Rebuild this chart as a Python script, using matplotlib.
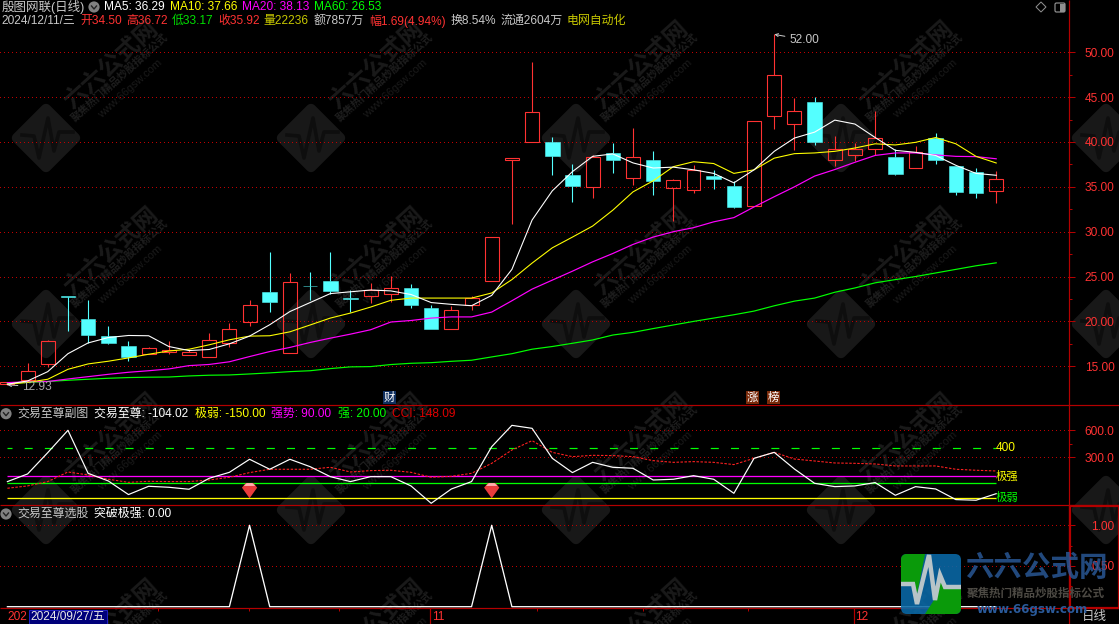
import matplotlib
matplotlib.use('Agg')
import matplotlib.pyplot as plt
from matplotlib.path import Path
from matplotlib.patches import Polygon, Rectangle, FancyBboxPatch, Circle

plt.rcParams['font.family'] = ['Liberation Sans', 'Noto Sans CJK SC', 'DejaVu Sans']
plt.rcParams['lines.scale_dashes'] = False
plt.rcParams['axes.unicode_minus'] = False

# ---- data ----
opens  = [13.0,13.51,15.3,22.84,20.3,18.4,17.28,16.4,16.64,16.3,16.08,17.54,19.89,23.3,16.53,23.96,24.55,22.6,22.8,23.0,
          23.77,21.5,19.1,21.8,24.48,38.0,40.0,40.0,36.37,35.0,38.8,35.96,38.04,34.85,34.63,36.26,35.04,32.85,42.85,41.96,
          44.48,37.96,38.5,39.2,38.37,37.07,40.4,37.37,36.6,34.50]
closes = [13.2,14.44,17.8,22.7,18.5,17.6,16.0,17.0,16.8,16.57,17.9,19.14,21.83,22.2,24.4,23.9,23.43,22.46,23.5,23.73,
          21.87,19.18,21.27,22.6,29.44,38.19,43.33,38.4,35.15,38.33,38.04,38.33,35.7,35.78,36.9,35.93,32.74,42.33,47.44,43.44,
          39.96,39.2,39.2,40.44,36.48,38.9,38.04,34.48,34.26,35.92]
highs  = [13.2,15.37,17.95,22.84,22.4,19.5,17.84,17.16,17.84,16.8,18.7,19.85,22.4,27.7,25.45,25.56,27.7,23.5,24.3,25.1,
          24.2,21.8,21.75,22.87,29.44,38.19,48.9,40.6,37.6,38.6,39.9,41.6,39.04,35.93,37.4,36.93,35.6,42.33,52.0,44.93,
          45.04,40.7,39.9,43.5,39.2,39.6,41.04,37.37,37.07,36.72]
lows   = [12.93,13.51,14.9,18.88,17.6,17.5,15.6,16.4,16.4,16.3,16.08,17.16,19.44,21.0,16.53,22.4,23.0,21.1,22.1,22.2,
          21.5,19.18,19.1,21.3,24.48,30.9,40.0,36.3,33.26,33.8,36.5,35.26,34.04,31.2,34.26,34.8,32.6,32.85,41.4,39.15,
          39.63,37.3,37.9,38.56,36.3,37.07,37.5,34.04,33.8,33.17]
ma5  = [13.0,13.36,14.4,16.4,17.6,18.2,18.43,18.4,17.2,16.75,16.87,17.5,18.36,19.63,21.1,22.1,23.1,23.3,23.5,23.4,
        23.0,22.1,21.9,21.75,22.9,25.8,31.3,34.55,36.7,38.4,38.67,37.67,37.1,37.2,36.9,36.5,35.45,36.9,38.96,40.44,
        41.1,42.44,42.0,40.5,39.07,38.85,38.5,37.4,36.5,36.29]
ma10 = [13.0,13.2,13.55,14.66,15.26,15.56,15.93,16.34,16.7,16.9,17.39,17.95,18.36,18.4,18.84,19.6,20.37,20.93,21.6,22.35,
        22.6,22.6,22.6,22.6,23.17,24.66,26.5,28.2,29.4,30.63,32.4,34.44,35.67,37.25,37.8,37.6,36.5,36.9,38.2,38.7,
        38.78,38.96,39.33,39.8,39.67,39.96,40.5,39.8,38.4,37.66]
ma20 = [13.17,13.28,13.3,13.58,13.84,14.1,14.33,14.5,14.7,15.07,15.2,15.5,16.08,16.64,17.1,17.65,18.13,18.58,19.07,19.93,
        20.1,20.37,20.5,20.5,21.04,22.3,23.6,24.6,25.6,26.64,27.57,28.58,29.4,30.0,30.45,31.1,31.57,32.76,33.9,35.0,
        36.2,36.93,37.74,38.5,38.78,38.78,38.56,38.4,38.37,38.13]
ma60 = [13.1,13.2,13.3,13.44,13.55,13.66,13.74,13.78,13.8,13.92,14.0,14.03,14.14,14.26,14.4,14.5,14.74,14.93,14.96,15.19,
        15.33,15.4,15.55,15.67,16.04,16.4,16.9,17.2,17.56,17.93,18.48,18.78,19.2,19.6,20.0,20.37,20.74,21.15,21.74,22.26,
        22.6,23.25,23.73,24.3,24.66,25.0,25.4,25.8,26.2,26.53]
zz_line = [30,115,352,600,122,37,-114,-22,-33,-55,67,133,278,167,278,196,85,30,85,85,
           -18,-211,-52,30,418,655,622,289,130,244,189,178,48,56,96,56,-100,289,355,170,
           11,-26,-18,19,-122,-26,-52,-170,-177,-104.02]
cci = [-44,-18,30,137,104,56,22,33,30,30,48,78,130,167,167,167,189,137,152,156,
       133,78,89,122,233,381,485,355,307,322,319,307,263,244,252,244,219,289,355,281,
       259,237,233,226,204,204,204,167,156,148.09]
breakout = [0]*50
breakout[12] = 1
breakout[24] = 1
gem_idx = [12, 24]
gem_val = [-71, -71]
level_strong2 = 400
level_strong = 90
level_mid = 20
level_weak = -150
price_ticks = [15, 20, 25, 30, 35, 40, 45, 50]
price_minor = [17.5, 22.5, 27.5, 32.5, 37.5, 42.5, 47.5]

W, H = 1119, 624
RED = '#ff3232'; CYAN = '#54ffff'; LINE = '#b40000'; GRID = '#c00000'
PX = 0.72
DOT = (0, (1*PX, 3*PX))
n = len(closes)
xs = list(range(n))

fig = plt.figure(figsize=(W/100, H/100), dpi=100, facecolor='black')

def pix_axes(left, top, right, bottom, z):
    a = fig.add_axes([left/W, 1-bottom/H, (right-left)/W, (bottom-top)/H], zorder=z)
    a.patch.set_visible(False)
    return a

def overlay(z):
    a = pix_axes(0, 0, W, H, z)
    a.set_xlim(0, W); a.set_ylim(H, 0); a.axis('off')
    return a

bg = overlay(0)
fg = overlay(10)

# ---- watermark ----
WM = '#181818'
for cy in (138, 324, 510, 696):
    for cx in (46, 311, 576, 841, 1106):
        if cy < 600:
            bg.add_patch(Polygon([(cx-29, cy), (cx, cy-29), (cx+29, cy), (cx, cy+29)], closed=True,
                                 facecolor=WM, edgecolor=WM, lw=7.5, joinstyle='round'))
            zx = [-24, -12, -7, 2, 8, 13, 27]
            zy = [-3, -2, 20, -20, 13, -6, -6]
            bg.plot([cx+a for a in zx], [cy+b for b in zy], color='#0e0e0e', lw=2.6)
        if cx < 1100:
            bg.text(cx+65, cy-73, '六六公式网', color='#1a1a1a', fontsize=17, fontweight='bold', rotation=42,
                    rotation_mode='anchor', ha='center', va='center')
            bg.text(cx+74, cy-60, '聚焦热门精品炒股指标公式', color='#1e1e1e', fontsize=7.6, fontweight='bold', rotation=42,
                    rotation_mode='anchor', ha='center', va='center')
            bg.text(cx+84, cy-49, 'www.66gsw.com', color='#1a1a1a', fontsize=8, rotation=42,
                    rotation_mode='anchor', ha='center', va='center')

AXR = 1068.5
XL = (-7.4/20.18, (AXR-7.4)/20.18)

def style_panel(a, ymaj, ymin, labels):
    a.set_xlim(*XL)
    a.set_xticks([])
    for s in a.spines.values():
        s.set_visible(False)
    a.yaxis.tick_right()
    a.set_yticks(ymaj)
    a.set_yticklabels(labels)
    a.set_yticks(ymin, minor=True)
    a.tick_params(axis='y', which='major', length=6/1.389, width=PX, color=LINE, labelcolor=RED,
                  labelsize=8.6, pad=40*PX)
    a.tick_params(axis='y', which='minor', length=3/1.389, width=PX, color=LINE)
    for t in a.get_yticklabels():
        t.set_ha('right')
    a.grid(axis='y', which='major', color=GRID, lw=PX, linestyle=DOT, antialiased=False)
    a.set_axisbelow(True)

# ---- main panel ----
ax = pix_axes(0, 0, AXR, 405.3, 1)
ax.set_ylim(50-(405.3-52.3)/8.97, 50+52.3/8.97)
style_panel(ax, price_ticks, price_minor, [f'{v:.2f}' for v in price_ticks])

for i in xs:
    up = closes[i] >= opens[i]
    col = RED if up else CYAN
    top, bot = max(opens[i], closes[i]), min(opens[i], closes[i])
    ax.vlines(i, top, highs[i], color=col, lw=PX*1.1, snap=True)
    ax.vlines(i, lows[i], bot, color=col, lw=PX*1.1, snap=True)
    if up:
        ax.bar(i, top-bot, bottom=bot, width=0.69, facecolor='none', edgecolor=col, lw=PX*1.1, zorder=2, snap=True)
    else:
        ax.bar(i, top-bot, bottom=bot, width=0.72, facecolor=col, edgecolor=col, lw=PX*0.5, zorder=2, snap=True)

ax.plot(xs, ma60, color='#00ff00', lw=PX*1.2, zorder=3)
ax.plot(xs, ma20, color='#ff00ff', lw=PX*1.2, zorder=3)
ax.plot(xs, ma10, color='#ffff00', lw=PX*1.1, zorder=3)
ax.plot(xs, ma5, color='#ffffff', lw=PX*1.1, zorder=4)
ax.annotate('52.00', xy=(38, max(highs)), xytext=(789, 39.7), textcoords=fg.transData, color='#c8c8c8', fontsize=8.6,
            va='center', ha='left', arrowprops=dict(arrowstyle='->,head_width=0.12,head_length=0.25', color='#c8c8c8', lw=PX, shrinkA=1, shrinkB=0))
ax.annotate('12.93', xy=(0, min(lows)), xytext=(22, 386.7), textcoords=fg.transData, color='#a8a8a8', fontsize=8.6,
            va='center', ha='left', arrowprops=dict(arrowstyle='->,head_width=0.12,head_length=0.25', color='#c8c8c8', lw=PX, shrinkA=1, shrinkB=0))

# ---- indicator panel ----
ax2 = pix_axes(0, 405.3, AXR, 505.3, 1)
ax2.set_ylim(300-(505.3-457.3)/0.09, 600+(430.3-405.3)/0.09)
style_panel(ax2, [300, 600], [450], ['300.0', '600.0'])
x0, x1 = xs[0], xs[-1]
ax2.hlines(level_strong, x0, x1, color='#ff00ff', lw=PX*1.3, zorder=2)
ax2.hlines(level_mid, x0, x1, color='#00ff00', lw=PX*1.3, zorder=2)
ax2.hlines(level_weak, x0, x1, color='#ffff00', lw=PX*1.3, zorder=2)
ax2.hlines(level_strong2, x0, x1, color='#00ff00', lw=PX*1.2, zorder=2, linestyles=[(3*PX, (8*PX, 12.18*PX))])
ax2.plot(xs, cci, color='#ff2020', lw=PX*1.1, linestyle=(0, (2.5*PX, 1.5*PX)), zorder=3)
ax2.plot(xs, zz_line, color='#ffffff', lw=PX*1.2, zorder=4)
gem = Path([(-.5, .2), (-.25, .5), (.25, .5), (.5, .2), (0, -.5), (-.5, .2)])
gem2 = Path([(-.3, .25), (-.15, .4), (.15, .4), (.3, .25), (-.3, .25)])
ax2.scatter(gem_idx, gem_val, marker=gem, s=120, facecolor='#e83c3c', edgecolor='none', zorder=5)
ax2.scatter(gem_idx, gem_val, marker=gem2, s=120, facecolor='#ffb0b0', edgecolor='none', zorder=6)

# ---- selection panel ----
ax3 = pix_axes(0, 505.3, AXR, 608.3, 1)
ax3.set_ylim(-(608.3-606.7)/81.4, 1+(525.3-505.3)/81.4)
style_panel(ax3, [0.5, 1.0], [0.75, 0.25], ['0.50', '1.00'])
ax3.plot(xs, breakout, color='#ffffff', lw=PX*1.3, zorder=4)

# ---- frame lines ----
for y in (405.3, 505.3, 608.3):
    fg.hlines(y, 0, W, color=LINE, lw=PX*1.2)
fg.vlines(AXR, 0, H, color=LINE, lw=PX*1.2)
fg.add_patch(Rectangle((1069.5, 505.7), 49.5, 102.6, facecolor='none', edgecolor='#b40000', lw=PX*2.2))

# ---- text ----
FS = 8.6
def T(x, y, s, c='#c8c8c8', fs=FS, **kw):
    kw.setdefault('ha', 'left'); kw.setdefault('va', 'center')
    return fg.text(x, y, s, color=c, fontsize=fs, **kw)

T(2, 7, '殷图网联(日线)', '#c8c8c8', 9)
for x, s, c in [(104, 'MA5: 36.29', '#ffffff'), (170, 'MA10: 37.66', '#ffff00'),
                (242, 'MA20: 38.13', '#ff00ff'), (314, 'MA60: 26.53', '#00ff00')]:
    T(x, 7, s, c)
for x, s, c in [(1, '2024/12/11/三', '#c8c8c8'), (80, '开34.50', RED), (126, '高36.72', RED),
                (172, '低33.17', '#00e000'), (218.6, '收35.92', RED), (263.6, '量22236', '#c8c800'),
                (313.6, '额7857万', '#c8c8c8'), (369, '幅1.69(4.94%)', RED), (451, '换8.54%', '#c8c8c8'),
                (501, '流通2604万', '#c8c8c8'), (567, '电网自动化', '#c8c800')]:
    T(x, 21, s, c)
for x, s, c in [(17, '交易至尊副图', '#c8c8c8'), (93.6, '交易至尊: -104.02', '#ffffff'), (195, '极弱: -150.00', '#ffff00'),
                (271, '强势: 90.00', '#ff00ff'), (337.5, '强: 20.00', '#00ff00'), (392, 'CCI: 148.09', '#e00000')]:
    T(x, 413.7, s, c)
for x, s, c in [(17, '交易至尊选股', '#c8c8c8'), (93.6, '突破极强: 0.00', '#ffffff')]:
    T(x, 514, s, c)
T(996, 447.6, '400', '#ffff00')
T(996, 476, '极强', '#ffff00', 8.2)
T(996, 497, '极弱', '#00ff00', 8.2)

# chips
for xa, xb, s, bgc in [(383, 396, '财', '#103060'), (746, 759, '涨', '#7a2a0a'), (767, 780, '榜', '#7a2a0a')]:
    fg.add_patch(Rectangle((xa, 391), xb-xa, 13, facecolor=bgc, edgecolor='none'))
    T((xa+xb)/2, 397.3, s, '#ffffff', 8.2, ha='center')

# icons
for (cx, cy) in [(94, 7), (6, 413.7), (6, 514)]:
    fg.add_patch(Circle((cx, cy), 5.6, facecolor='#808080', edgecolor='none'))
    fg.plot([cx-2.5, cx, cx+2.5], [cy-1, cy+2, cy-1], color='#222222', lw=1)
fg.add_patch(Polygon([(1041, 2), (1046, 7), (1041, 12), (1036, 7)], closed=True, facecolor='none', edgecolor='#909090', lw=PX))
fg.add_patch(FancyBboxPatch((1055, 3), 10, 9, boxstyle='round,pad=0,rounding_size=1.5', facecolor='none', edgecolor='#909090', lw=PX*1.2))
fg.add_patch(Rectangle((1060, 3.5), 4.5, 8, facecolor='#909090', edgecolor='none'))

# x axis strip
T(7, 616.7, '202', RED)
fg.add_patch(Rectangle((28.5, 609.5), 78, 14, facecolor='#00007a', edgecolor='#2020c0', lw=PX))
T(30, 616.7, '2024/09/27/五', '#e8e8e8')
fg.vlines([430.4, 853.6], 608, H, color=LINE, lw=PX*1.2)
T(432, 616.7, '11', RED)
T(855, 616.7, '12', RED)
fg.vlines([158, 249, 339, 537, 643, 748], 608, 611, color=LINE, lw=PX)
T(1082, 616.7, '日线', '#c8c8c8', 9)

# ---- logo, bottom right ----
lg = overlay(11)
LA = 0.88
base = FancyBboxPatch((901, 554), 60, 60, boxstyle='round,pad=0,rounding_size=6', facecolor='#0a6aa8', edgecolor='none', alpha=LA)
lg.add_patch(base)
p1 = Polygon([(901, 554), (925, 554), (916, 600), (913, 584), (901, 584)], closed=True, facecolor='#0a9a0a', edgecolor='none')
p2 = Polygon([(934, 600), (940, 575), (945, 587), (961, 587), (961, 614), (925, 614)], closed=True, facecolor='#0a9a0a', edgecolor='none')
for p in (p1, p2):
    lg.add_patch(p); p.set_clip_path(base)
ecg = lg.plot([901, 913, 917, 929, 935, 940, 945, 961], [584, 584, 604, 555, 600, 575, 587, 587],
              color='#b8c4c8', lw=3.2, solid_joinstyle='miter')[0]
ecg.set_clip_path(base)
lg.text(1036, 568, '六六公式网', color='#2a5a9a', fontsize=20.5, fontweight='bold', ha='center', va='center', alpha=0.82)
lg.text(1036, 594, '聚焦热门精品炒股指标公式', color='#4d4a44', fontsize=8.3, fontweight='bold', ha='center', va='center')
lg.text(1032, 609, 'www.66gsw.com', color='#2a5a9a', fontsize=8.6, fontweight='bold', ha='center', va='center',
        family='DejaVu Sans')

fig.savefig('out.png', dpi=100, facecolor='black')
